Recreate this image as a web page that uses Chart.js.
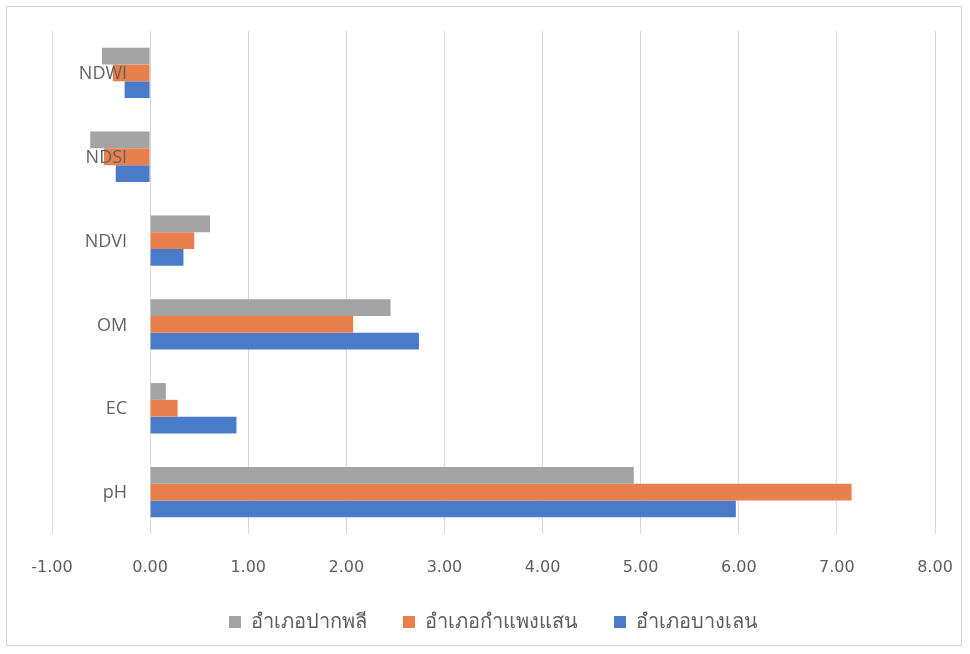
<!DOCTYPE html>
<html>
<head>
<meta charset="utf-8">
<script src="https://cdn.jsdelivr.net/npm/chart.js@4"></script>
<style>
    body { margin: 0; background: #fff; }
    #wrap {
        position: absolute; left: 6px; top: 6px;
        width: 956px; height: 640px;
        border: 1px solid #d4d4d4;
        box-sizing: border-box;
    }
</style>
</head>
<body>
<div id="wrap"><canvas id="chart"></canvas></div>
<script>
// Categories top to bottom
const categories = ['NDWI', 'NDSI', 'NDVI', 'OM', 'EC', 'pH'];

// Series values
const pakPhli = [-0.49, -0.61, 0.61, 2.45, 0.16, 4.93];       // อำเภอปากพลี
const kamphaengSaen = [-0.38, -0.47, 0.45, 2.07, 0.28, 7.15]; // อำเภอกำแพงแสน
const bangLen = [-0.26, -0.35, 0.34, 2.74, 0.88, 5.97];       // อำเภอบางเลน

const xMin = -1;
const xMax = 8;

const tickFont = "'DejaVu Sans', Tahoma, sans-serif";
const labelFont = "'Open Sans', 'Noto Sans', sans-serif";

// category labels sit just left of the zero line, on top of the bars (like Excel)
const categoryLabels = {
    id: 'categoryLabels',
    afterDatasetsDraw(chart) {
        const { ctx, scales: { x, y } } = chart;
        const x0 = x.getPixelForValue(0);
        ctx.save();
        ctx.font = '18px ' + labelFont;
        ctx.fillStyle = '#626262';
        ctx.textAlign = 'right';
        ctx.textBaseline = 'middle';
        categories.forEach((c, i) => {
            ctx.fillText(c, x0 - 23, y.getPixelForValue(i) + 1);
        });
        ctx.restore();
    }
};

new Chart(document.getElementById('chart'), {
    type: 'bar',
    data: {
        labels: categories,
        datasets: [
            { label: 'อำเภอปากพลี', data: pakPhli, backgroundColor: '#a3a3a3' },
            { label: 'อำเภอกำแพงแสน', data: kamphaengSaen, backgroundColor: '#e9804c' },
            { label: 'อำเภอบางเลน', data: bangLen, backgroundColor: '#4a7bc9' }
        ]
    },
    options: {
        indexAxis: 'y',
        responsive: true,
        maintainAspectRatio: false,
        animation: false,
        datasets: {
            bar: { categoryPercentage: 0.6, barPercentage: 1.0 }
        },
        layout: { padding: { left: 45, right: 26, top: 24, bottom: 3 } },
        scales: {
            x: {
                min: xMin,
                max: xMax,
                ticks: {
                    stepSize: 1,
                    color: '#5e5e5e',
                    font: { family: tickFont, size: 16 },
                    padding: 24,
                    callback: v => v.toFixed(2)
                },
                grid: { color: '#d9d9d9', drawTicks: false },
                border: { display: false },
                // the label gap should not widen the side margins or leave room under the labels
                afterFit: scale => {
                    scale.paddingLeft = 0;
                    scale.paddingRight = 0;
                    scale.height = 42;
                }
            },
            y: {
                position: { x: 0 },
                ticks: { display: false },
                grid: { display: false },
                border: { display: false }
            }
        },
        plugins: {
            legend: {
                position: 'bottom',
                labels: {
                    boxWidth: 12,
                    boxHeight: 12,
                    padding: 36,
                    color: '#5e5e5e',
                    font: { family: labelFont, size: 20 }
                }
            },
            tooltip: { enabled: false }
        }
    },
    plugins: [categoryLabels]
});
</script>
</body>
</html>
